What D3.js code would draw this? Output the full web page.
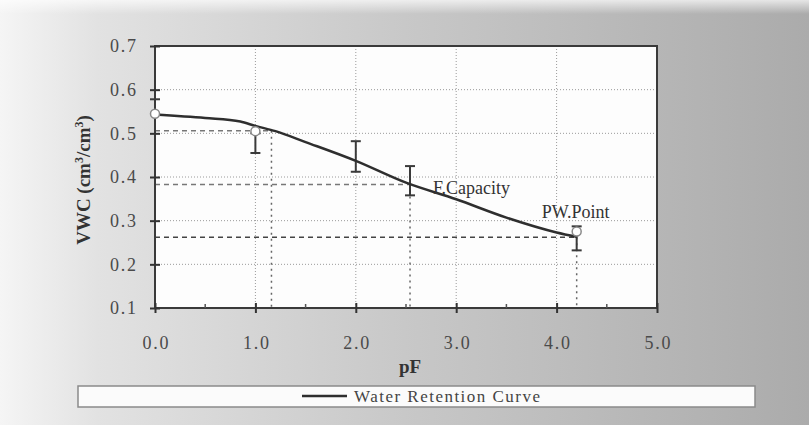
<!DOCTYPE html>
<html>
<head>
<meta charset="utf-8">
<script src="https://cdn.jsdelivr.net/npm/d3@7"></script>
<style>
  html, body { margin: 0; padding: 0; }
  svg { display: block; font-family: "Liberation Serif", "DejaVu Serif", serif; }
</style>
</head>
<body>
<svg id="chart" width="809" height="425"></svg>
<script>
// curve (pF, VWC)
const curvePF  = [0.0, 0.5, 0.85, 1.0, 1.2, 1.5, 2.0, 2.5, 3.0, 3.5, 4.0, 4.2];
const curveVWC = [0.543, 0.535, 0.527, 0.517, 0.505, 0.48, 0.437, 0.387, 0.349, 0.307, 0.273, 0.263];

// measured points with error bars
const obsPF   = [0.0, 1.0, 2.0, 2.54, 4.2];
const obsLow  = [0.545, 0.455, 0.412, 0.358, 0.232];
const obsHigh = [0.578, 0.500, 0.482, 0.425, 0.287];
const circlePF  = [0.0, 1.0, 4.2];
const circleVWC = [0.545, 0.505, 0.275];

// reference points: field capacity etc.
const refPF  = [1.16, 2.54, 4.2];
const refVWC = [0.506, 0.383, 0.262];
const refLabels = ['', 'F.Capacity', 'PW.Point'];

const xTicks = [0, 1, 2, 3, 4, 5];
const yTicks = [0.1, 0.2, 0.3, 0.4, 0.5, 0.6, 0.7];

const svg = d3.select('#chart');
const W = 809, H = 425;
const m = { left: 155, top: 46, right: 657, bottom: 308 };

// scanned-paper background
const defs = svg.append('defs');
const bg = defs.append('linearGradient').attr('id', 'bg').attr('x1', 0).attr('x2', 1).attr('y1', 0).attr('y2', 0);
bg.append('stop').attr('offset', '0%').attr('stop-color', '#f5f5f5');
bg.append('stop').attr('offset', '12%').attr('stop-color', '#e2e2e2');
bg.append('stop').attr('offset', '50%').attr('stop-color', '#c8c8c8');
bg.append('stop').attr('offset', '100%').attr('stop-color', '#ababab');
const fade = defs.append('linearGradient').attr('id', 'fade').attr('x1', 0).attr('x2', 0).attr('y1', 0).attr('y2', 1);
fade.append('stop').attr('offset', '0%').attr('stop-color', '#fff').attr('stop-opacity', 0.7);
fade.append('stop').attr('offset', '100%').attr('stop-color', '#fff').attr('stop-opacity', 0);
svg.append('rect').attr('width', W).attr('height', H).attr('fill', 'url(#bg)');
svg.append('rect').attr('width', W).attr('height', 14).attr('fill', 'url(#fade)');

const x = d3.scaleLinear().domain([0, 5]).range([m.left, m.right]);
const y = d3.scaleLinear().domain([0.1, 0.7]).range([m.bottom, m.top]);

// plot area
svg.append('rect')
  .attr('x', m.left).attr('y', m.top)
  .attr('width', m.right - m.left).attr('height', m.bottom - m.top)
  .attr('fill', '#fdfdfd');

// grid lines (dotted)
const g = svg.append('g');
g.selectAll('.hgrid').data(yTicks.slice(1, -1)).enter().append('line')
  .attr('x1', m.left).attr('x2', m.right)
  .attr('y1', d => y(d)).attr('y2', d => y(d))
  .attr('stroke', '#9a9a9a').attr('stroke-width', 1).attr('stroke-dasharray', '1,2');
g.selectAll('.vgrid').data(xTicks.slice(1, -1)).enter().append('line')
  .attr('x1', d => x(d)).attr('x2', d => x(d))
  .attr('y1', m.top).attr('y2', m.bottom)
  .attr('stroke', '#9a9a9a').attr('stroke-width', 1).attr('stroke-dasharray', '1,2');

// dashed reference lines
refPF.forEach((p, i) => {
  g.append('line')
    .attr('x1', m.left).attr('x2', x(p))
    .attr('y1', y(refVWC[i])).attr('y2', y(refVWC[i]))
    .attr('stroke', i === 2 ? '#444' : '#777').attr('stroke-width', 1.5)
    .attr('stroke-dasharray', '5,4');
  g.append('line')
    .attr('x1', x(p)).attr('x2', x(p))
    .attr('y1', y(refVWC[i])).attr('y2', m.bottom)
    .attr('stroke', '#666').attr('stroke-width', 1.5)
    .attr('stroke-dasharray', '2,4');
});

// border
svg.append('rect')
  .attr('x', m.left).attr('y', m.top)
  .attr('width', m.right - m.left).attr('height', m.bottom - m.top)
  .attr('fill', 'none').attr('stroke', '#3a3a3a').attr('stroke-width', 2);

// axes
const xAxis = svg.append('g')
  .attr('class', 'xAxis')
  .attr('transform', `translate(0,${m.bottom})`)
  .call(d3.axisBottom(x).tickValues(xTicks).tickSize(5).tickPadding(23).tickFormat(d3.format('.1f')));
const yAxis = svg.append('g')
  .attr('class', 'yAxis')
  .attr('transform', `translate(${m.left},0)`)
  .call(d3.axisLeft(y).tickValues(yTicks).tickSize(5).tickPadding(14).tickFormat(d3.format('.1f')));
[xAxis, yAxis].forEach(a => {
  a.select('.domain').remove();
  a.selectAll('.tick line').attr('stroke', '#333').attr('stroke-width', 2);
  a.selectAll('.tick text')
    .attr('fill', '#4a4a4a')
    .attr('textLength', 26)
    .style('font-family', '"Liberation Serif", serif')
    .style('font-size', '18px');
});
// ticks cross the axis line
xAxis.selectAll('.tick line').attr('y1', -5);
yAxis.selectAll('.tick line').attr('x1', 5);

// minor x ticks
svg.append('g').selectAll('line').data(d3.range(0.5, 5, 1)).enter().append('line')
  .attr('x1', d => x(d)).attr('x2', d => x(d))
  .attr('y1', m.bottom).attr('y2', m.bottom - 4)
  .attr('stroke', '#555').attr('stroke-width', 1.5);

// error bars
const eb = svg.append('g').attr('stroke', '#3a3a3a').attr('stroke-width', 2);
obsPF.forEach((p, i) => {
  eb.append('line').attr('x1', x(p)).attr('x2', x(p)).attr('y1', y(obsLow[i])).attr('y2', y(obsHigh[i]));
  [obsLow[i], obsHigh[i]].forEach(v => {
    eb.append('line').attr('x1', x(p) - 5).attr('x2', x(p) + 5).attr('y1', y(v)).attr('y2', y(v));
  });
});

// retention curve
const curve = curvePF.map((p, i) => [p, curveVWC[i]]);
svg.append('path')
  .datum(curve)
  .attr('fill', 'none')
  .attr('stroke', '#2e2e2e')
  .attr('stroke-width', 2.5)
  .attr('d', d3.line().x(d => x(d[0])).y(d => y(d[1])).curve(d3.curveMonotoneX));

// open circle markers
svg.append('g').selectAll('circle').data(circlePF).enter().append('circle')
  .attr('cx', d => x(d))
  .attr('cy', (d, i) => y(circleVWC[i]))
  .attr('r', 4.5)
  .attr('fill', '#fff')
  .attr('stroke', '#888')
  .attr('stroke-width', 1.5);

// point labels
svg.append('g').selectAll('text').data(refLabels).enter().append('text')
  .attr('x', (d, i) => x(refPF[i]) + (i === 2 ? -35 : 23))
  .attr('y', (d, i) => y(refVWC[i]) + (i === 2 ? -19 : 10))
  .attr('fill', '#333')
  .style('font-size', '18px')
  .text(d => d);

// axis titles
svg.append('text')
  .attr('x', x(2.5) + 4).attr('y', 373)
  .attr('text-anchor', 'middle')
  .attr('fill', '#333')
  .style('font-size', '19px').style('font-weight', 'bold')
  .text('pF');
const yt = svg.append('text')
  .attr('transform', 'translate(90,180) rotate(-90)')
  .attr('text-anchor', 'middle')
  .attr('fill', '#333')
  .style('font-size', '19px').style('font-weight', 'bold');
yt.append('tspan').text('VWC (cm');
yt.append('tspan').attr('baseline-shift', 'super').style('font-size', '12px').text('3');
yt.append('tspan').text('/cm');
yt.append('tspan').attr('baseline-shift', 'super').style('font-size', '12px').text('3');
yt.append('tspan').text(')');

// legend
const lg = svg.append('g');
lg.append('rect')
  .attr('x', 78).attr('y', 386).attr('width', 677).attr('height', 21)
  .attr('fill', '#fbfbfb').attr('stroke', '#8a8a8a').attr('stroke-width', 1.5);
lg.append('line')
  .attr('x1', 302).attr('x2', 347).attr('y1', 396).attr('y2', 396)
  .attr('stroke', '#2e2e2e').attr('stroke-width', 2.5);
lg.append('text')
  .attr('x', 354).attr('y', 402)
  .attr('fill', '#444')
  .attr('textLength', 186)
  .style('font-size', '17px')
  .text('Water Retention Curve');
</script>
</body>
</html>
